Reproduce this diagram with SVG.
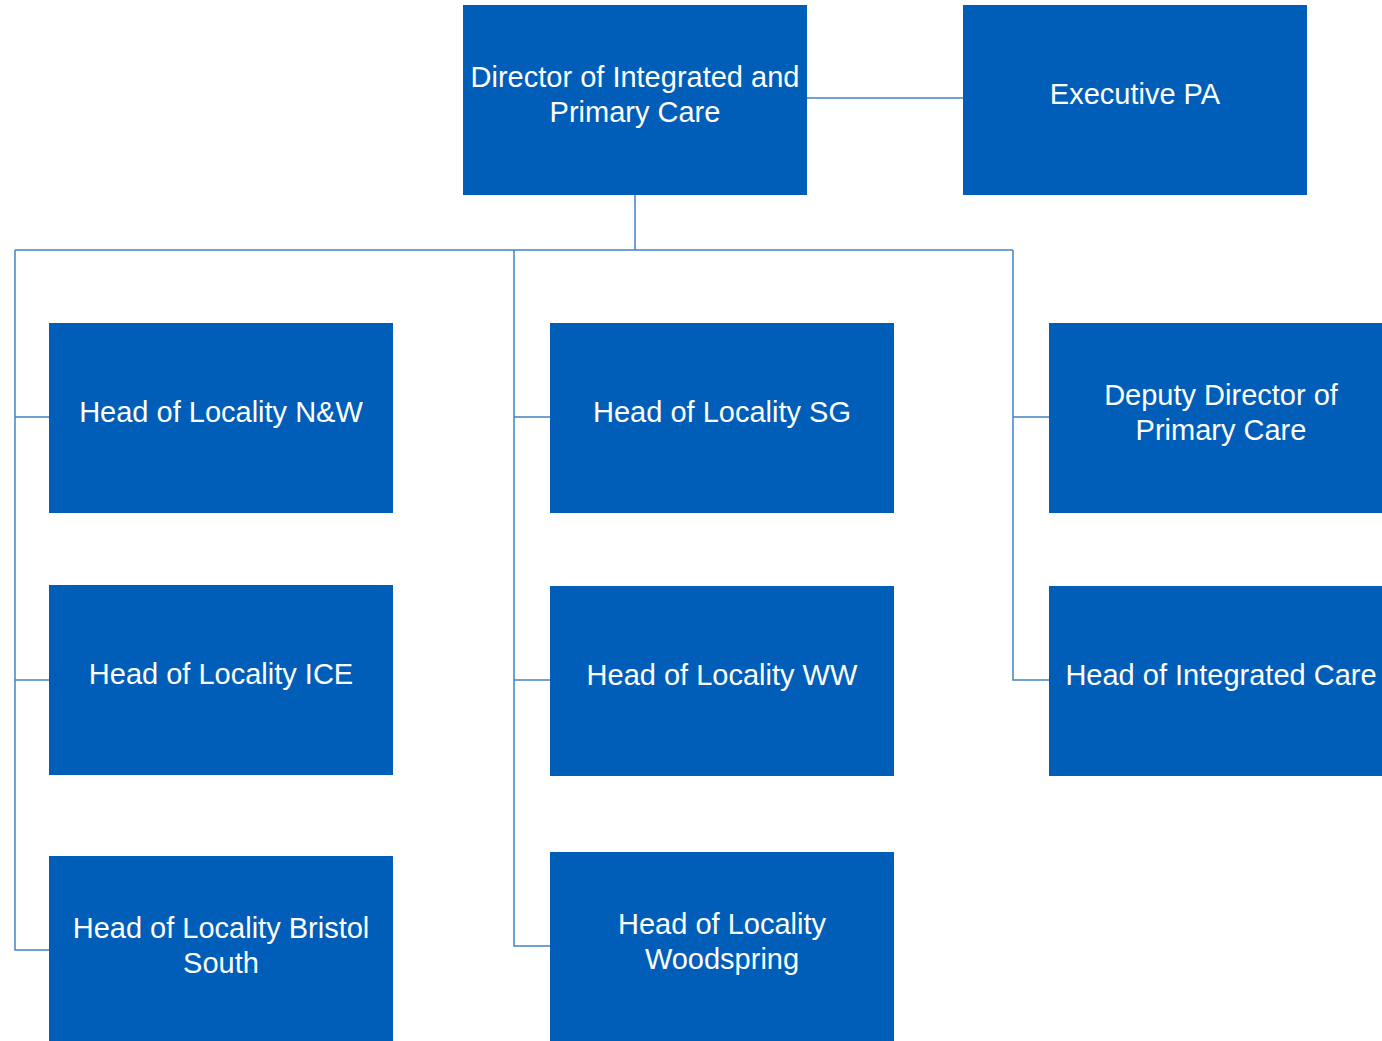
<svg xmlns="http://www.w3.org/2000/svg" width="1382" height="1041" viewBox="0 0 1382 1041">
  <style>
    .box { fill: #005EB8; }
    .lbl { fill: #FFFFFF; font-family: "Liberation Sans", Arial, sans-serif; font-size: 29px; text-anchor: middle; }
    .link { fill: none; stroke: #4282C8; stroke-width: 1.5; }
  </style>
  <rect x="0" y="0" width="1382" height="1041" fill="#FFFFFF"/>

  <!-- reporting lines -->
  <g id="connectors">
    <path class="link" d="M807 98 H963"/>
    <path class="link" d="M635 195 V250"/>
    <path class="link" d="M15 250 H1013"/>
    <path class="link" d="M15 250 V950 H49 M15 417 H49 M15 680 H49"/>
    <path class="link" d="M514 250 V946 H550 M514 417 H550 M514 680 H550"/>
    <path class="link" d="M1013 250 V680 H1049 M1013 417 H1049"/>
  </g>

  <g id="director">
    <rect class="box" x="463" y="5" width="344" height="190"/>
    <text class="lbl" x="635" y="87">Director of Integrated and</text>
    <text class="lbl" x="635" y="122">Primary Care</text>
  </g>
  <g id="executive-pa">
    <rect class="box" x="963" y="5" width="344" height="190"/>
    <text class="lbl" x="1135" y="104">Executive PA</text>
  </g>

  <g id="locality-nw">
    <rect class="box" x="49" y="323" width="344" height="190"/>
    <text class="lbl" x="221" y="422">Head of Locality N&amp;W</text>
  </g>
  <g id="locality-ice">
    <rect class="box" x="49" y="585" width="344" height="190"/>
    <text class="lbl" x="221" y="684">Head of Locality ICE</text>
  </g>
  <g id="locality-bristol-south">
    <rect class="box" x="49" y="856" width="344" height="190"/>
    <text class="lbl" x="221" y="938">Head of Locality Bristol</text>
    <text class="lbl" x="221" y="973">South</text>
  </g>

  <g id="locality-sg">
    <rect class="box" x="550" y="323" width="344" height="190"/>
    <text class="lbl" x="722" y="422">Head of Locality SG</text>
  </g>
  <g id="locality-ww">
    <rect class="box" x="550" y="586" width="344" height="190"/>
    <text class="lbl" x="722" y="685">Head of Locality WW</text>
  </g>
  <g id="locality-woodspring">
    <rect class="box" x="550" y="852" width="344" height="190"/>
    <text class="lbl" x="722" y="934">Head of Locality</text>
    <text class="lbl" x="722" y="969">Woodspring</text>
  </g>

  <g id="deputy-director">
    <rect class="box" x="1049" y="323" width="344" height="190"/>
    <text class="lbl" x="1221" y="405">Deputy Director of</text>
    <text class="lbl" x="1221" y="440">Primary Care</text>
  </g>
  <g id="integrated-care">
    <rect class="box" x="1049" y="586" width="344" height="190"/>
    <text class="lbl" x="1221" y="685">Head of Integrated Care</text>
  </g>
</svg>
